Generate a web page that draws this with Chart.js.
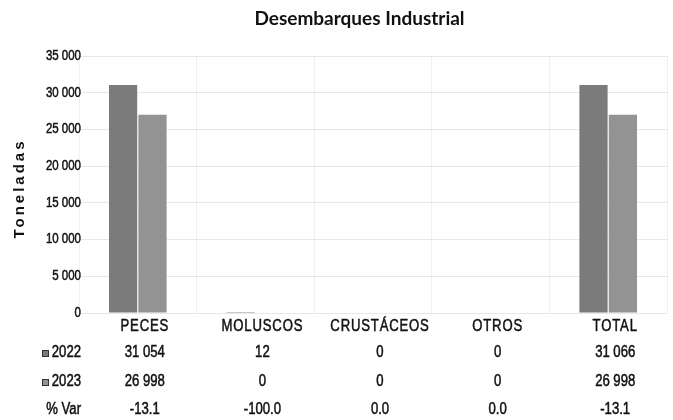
<!DOCTYPE html>
<html>
<head>
<meta charset="utf-8">
<script src="https://cdn.jsdelivr.net/npm/chart.js@4/dist/chart.umd.min.js"></script>
<style>
    body { margin: 0; background: #ffffff; }
    #wrap { width: 673px; height: 420px; }
</style>
</head>
<body>
<div id="wrap"><canvas id="grafico"></canvas></div>
<script>
//Datos
var categorias = ["PECES", "MOLUSCOS", "CRUSTÁCEOS", "OTROS", "TOTAL"];
var anios = ["2022", "2023"];
var valores2022 = [31054, 12, 0, 0, 31066];
var valores2023 = [26998, 0, 0, 0, 26998];
var variacion = [-13.1, -100.0, 0.0, 0.0, -13.1];
var yMax = 35000;
var yPaso = 5000;

var colores = ["#7b7b7b", "#939393"];
var fuente = "'Liberation Sans', Arial, sans-serif";
var angosto = 0.82; //Arial Narrow simulado

//Miles con espacio
function miles(v) {
    return String(v).replace(/\B(?=(\d{3})+(?!\d))/g, " ");
}

//Texto angosto (un poco remarcado)
function textoAngosto(ctx, txt, x, y, align) {
    ctx.save();
    ctx.translate(x, y);
    ctx.scale(angosto, 1);
    ctx.textAlign = align;
    ctx.lineWidth = 0.5;
    ctx.strokeStyle = ctx.fillStyle;
    ctx.fillText(txt, 0, 0);
    ctx.strokeText(txt, 0, 0);
    ctx.restore();
}

//Titulo, eje y tabla de datos
var tablaPlugin = {
    id: "tabla",
    afterDraw: function (chart) {
        var ctx = chart.ctx;
        var xs = chart.scales.x;
        var ys = chart.scales.y;
        var area = chart.chartArea;
        ctx.save();
        ctx.fillStyle = "#111111";
        ctx.textBaseline = "middle";
        //Titulo
        ctx.font = "bold 19px Lato, sans-serif";
        ctx.textAlign = "center";
        ctx.fillText("Desembarques Industrial", chart.width / 2 + 23, 19);
        //Toneladas
        ctx.save();
        ctx.translate(20, (area.top + area.bottom) / 2 + 4);
        ctx.rotate(-Math.PI / 2);
        ctx.font = "bold 15px " + fuente;
        ctx.letterSpacing = "3px";
        ctx.fillText("Toneladas", 0, 0);
        ctx.restore();
        //Ticks eje y
        ctx.font = "14px " + fuente;
        ys.ticks.forEach(function (t) {
            textoAngosto(ctx, miles(t.value), 81, ys.getPixelForValue(t.value), "right");
        });
        //Filas
        var filas = [
            categorias,
            valores2022.map(miles),
            valores2023.map(miles),
            variacion.map(function (v) { return v.toFixed(1); })
        ];
        var filasY = [327, 353, 382, 410];
        ctx.font = "16px " + fuente;
        filas.forEach(function (fila, f) {
            fila.forEach(function (txt, i) {
                var x = xs.getPixelForValue(i) + 7;
                if (f == 0) {
                    ctx.save();
                    ctx.letterSpacing = "1px";
                    textoAngosto(ctx, txt, x, filasY[f], "center");
                    ctx.restore();
                } else {
                    textoAngosto(ctx, txt, x, filasY[f], "center");
                }
            });
        });
        //Cabeceras de fila
        textoAngosto(ctx, anios[0], 81, filasY[1], "right");
        textoAngosto(ctx, anios[1], 81, filasY[2], "right");
        textoAngosto(ctx, "% Var", 81, filasY[3], "right");
        [1, 2].forEach(function (f, k) {
            ctx.fillStyle = colores[k];
            ctx.fillRect(42, filasY[f] - 3, 7, 7);
            ctx.strokeStyle = "#333333";
            ctx.lineWidth = 1;
            ctx.strokeRect(42.5, filasY[f] - 2.5, 6, 6);
        });
        ctx.restore();
    }
};

var myChart = new Chart(document.getElementById("grafico"), {
    type: "bar",
    data: {
        labels: categorias,
        datasets: [{
            label: anios[0],
            data: valores2022,
            backgroundColor: colores[0],
            categoryPercentage: 0.5,
            barPercentage: 0.96
        }, {
            label: anios[1],
            data: valores2023,
            backgroundColor: colores[1],
            categoryPercentage: 0.5,
            barPercentage: 0.96
        }]
    },
    options: {
        responsive: true,
        maintainAspectRatio: false,
        animation: false,
        layout: {
            padding: { top: 56, bottom: 107, right: 6 }
        },
        plugins: {
            legend: { display: false },
            title: { display: false },
            tooltip: { enabled: false }
        },
        scales: {
            x: {
                offset: true,
                border: { display: false },
                grid: { color: "rgba(0,0,0,0.06)", offset: true, drawTicks: false },
                ticks: { display: false }
            },
            y: {
                min: 0,
                max: yMax,
                border: { display: false },
                grid: { color: "rgba(0,0,0,0.09)", drawTicks: false },
                ticks: {
                    stepSize: yPaso,
                    display: false
                },
                afterFit: function (scale) { scale.width = 79; }
            }
        }
    },
    plugins: [tablaPlugin]
});
</script>
</body>
</html>
